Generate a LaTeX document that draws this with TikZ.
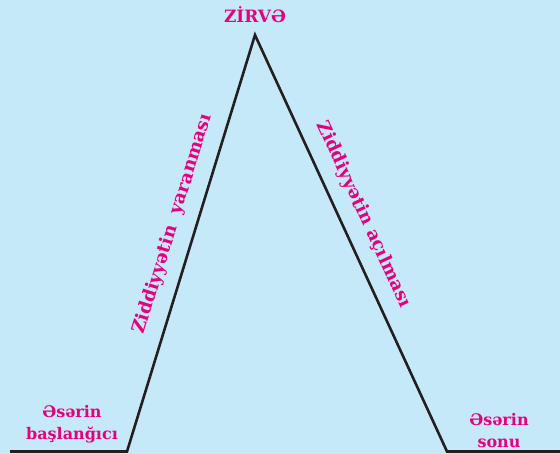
\documentclass[tikz,border=0pt]{standalone}
\usepackage{fontspec}
\setmainfont{DejaVu Serif}
\definecolor{bg}{HTML}{C6E9F9}
\definecolor{mag}{HTML}{E6007E}
\definecolor{ink}{HTML}{231F20}
\begin{document}
\begin{tikzpicture}[x=1pt,y=1pt,
  lbl/.style={text=mag,font=\bfseries\fontsize{16}{22}\selectfont,inner sep=0pt,align=center},
  slope/.style={text=mag,font=\bfseries\fontsize{18}{22}\selectfont,inner sep=0pt},
  ln/.style={draw=ink,line width=2.6pt,line join=miter}]
\fill[bg] (0,0) rectangle (560,454);
\useasboundingbox (0,0) rectangle (560,454);
\coordinate (L0) at (10,2.5);
\coordinate (L1) at (127,2.5);
\coordinate (A) at (255,419);
\coordinate (R1) at (447,2.5);
\coordinate (R0) at (560,2.5);
\draw[ln] (L0) -- (L1) -- (A) -- (R1) -- (R0);
\node[lbl,font=\bfseries\fontsize{17}{20}\selectfont] (top) at (255,439) {ZİRVƏ};
\node[slope,rotate=72.9] (up) at (173,230) {Ziddiyyətin\ \ yaranması};
\node[slope,rotate=-65.3] (down) at (363.5,239.5) {Ziddiyyətin açılması};
\node[lbl] (start) at (72,30) {Əsərin\\başlanğıcı};
\node[lbl] (end) at (499,23) {Əsərin\\sonu};
\end{tikzpicture}
\end{document}
